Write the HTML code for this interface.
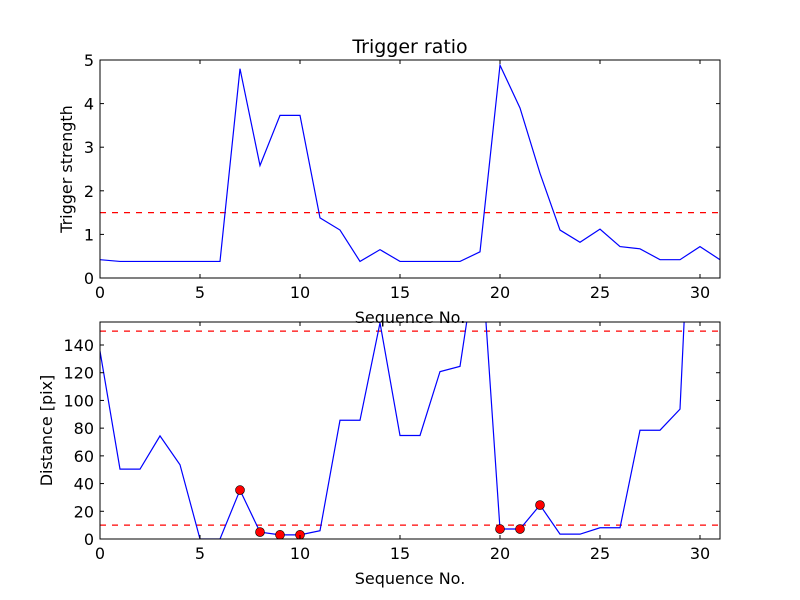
<!DOCTYPE html>
<html><head><meta charset="utf-8"><style>body{margin:0;background:#fff}svg{display:block}text{font-family:"DejaVu Sans","Liberation Sans",sans-serif;fill:#000}</style></head>
<body>
<svg id="c" width="800" height="600" xmlns="http://www.w3.org/2000/svg"></svg>
<script>
const seq = Array.from({length:32},(_, i)=>i);
const triggerVals = [0.42,0.38,0.38,0.38,0.38,0.38,0.38,4.8,2.58,3.73,3.73,1.38,1.1,0.38,0.65,0.38,0.38,0.38,0.38,0.6,4.88,3.9,2.4,1.1,0.82,1.12,0.72,0.67,0.42,0.42,0.72,0.42];
const triggerThreshold = 1.5;
const distVals = [135.6,50.4,50.4,74.4,53.6,0,0,35.3,5,3,3,6,85.7,85.7,156,74.7,74.7,120.8,124.6,220,7.2,7.2,24.5,3.5,3.5,8.1,8.1,78.5,78.5,93.7,400,400];
const distThresholds = [150,10];
const markedIdx = [7,8,9,10,20,21,22];
const xTicks = [0,5,10,15,20,25,30];
const yTicksTop = [0,1,2,3,4,5];
const yTicksBot = [0,20,40,60,80,100,120,140];

const svg = document.getElementById('c');
const NS='http://www.w3.org/2000/svg';
function mk(tag, attrs, parent, name){const e=document.createElementNS(NS,tag);for(const k in attrs)e.setAttribute(k,attrs[k]);


(parent||svg).appendChild(e);return e;}

function panel(o){
  const L=100,R=720,T=o.top,B=o.bottom;
  const xs=v=>L+(v-0)/(31-0)*(R-L);
  const ys=v=>B-(v-o.ymin)/(o.ymax-o.ymin)*(B-T);
  const g=mk('g',{},svg,o.name);
  const cid='clip-'+o.name;
  const cp=mk('clipPath',{id:cid},g,o.name+'-clip');
  mk('rect',{x:L,y:T,width:R-L,height:B-T},cp,o.name+'-clip-rect');
  const pg=mk('g',{'clip-path':'url(#'+cid+')'},g,o.name+'-plot-area');
  o.thresholds.forEach((t,i)=>mk('line',{x1:L,x2:R,y1:ys(t),y2:ys(t),stroke:'#f00','stroke-width':1.2,'stroke-dasharray':'6,6'},pg,'threshold-line-'+i));
  const pts=o.vals.map((v,i)=>xs(seq[i]).toFixed(2)+','+ys(v).toFixed(2)).join(' ');
  mk('polyline',{points:pts,fill:'none',stroke:'#00f','stroke-width':1.2},pg,'series-line');
  (o.marks||[]).forEach(i=>mk('circle',{cx:xs(seq[i]),cy:ys(o.vals[i]),r:4.5,fill:'#f00',stroke:'#000','stroke-width':0.6},pg,'marker-'+i));
  mk('rect',{x:L,y:T,width:R-L,height:B-T,fill:'none',stroke:'#000','stroke-width':1},g,'axes-frame');
  xTicks.forEach(t=>{const x=xs(t);
    mk('line',{x1:x,x2:x,y1:B,y2:B-4,stroke:'#000'},g,'x-tick');
    mk('line',{x1:x,x2:x,y1:T,y2:T+4,stroke:'#000'},g,'x-tick-top');
    const tx=mk('text',{x:x,y:B+20,'text-anchor':'middle','font-size':16},g,'x-tick-label');tx.textContent=t;});
  o.yticks.forEach(t=>{const y=ys(t);
    mk('line',{x1:L,x2:L+4,y1:y,y2:y,stroke:'#000'},g,'y-tick');
    mk('line',{x1:R,x2:R-4,y1:y,y2:y,stroke:'#000'},g,'y-tick-right');
    const tx=mk('text',{x:L-6,y:y+6,'text-anchor':'end','font-size':16},g,'y-tick-label');tx.textContent=t;});
  const xl=mk('text',{x:(L+R)/2,y:B+45,'text-anchor':'middle','font-size':16},g,'x-axis-title');xl.textContent='Sequence No.';
  const cy=(T+B)/2;
  const yl=mk('text',{x:o.ylabX,y:cy,'text-anchor':'middle','font-size':16,transform:'rotate(-90 '+o.ylabX+' '+cy+')'},g,'y-axis-title');yl.textContent=o.ylabel;
  if(o.title){const tt=mk('text',{x:(L+R)/2,y:T-7,'text-anchor':'middle','font-size':19},g,'chart-title');tt.textContent=o.title;}
}
panel({name:'trigger-panel',top:60,bottom:278,ymin:0,ymax:5,vals:triggerVals,thresholds:[triggerThreshold],yticks:yTicksTop,ylabel:'Trigger strength',ylabX:72,title:'Trigger ratio'});
panel({name:'distance-panel',top:322,bottom:539,ymin:0,ymax:156.6,vals:distVals,thresholds:distThresholds,yticks:yTicksBot,ylabel:'Distance [pix]',ylabX:52,marks:markedIdx});
</script>
</body></html>
